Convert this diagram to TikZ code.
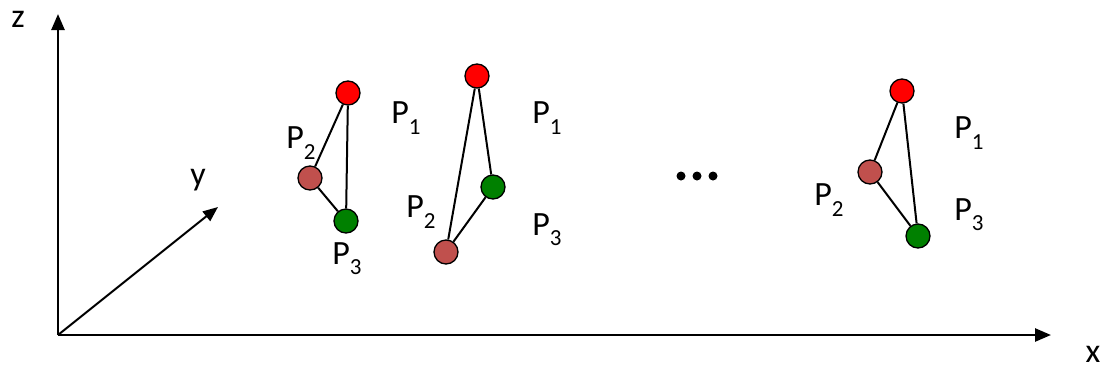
\documentclass[tikz,border=0pt]{standalone}
\usepackage{fontspec}
\setmainfont{Carlito}
\usetikzlibrary{arrows.meta}
\definecolor{pred}{HTML}{FF0000}
\definecolor{pbrown}{HTML}{C0504D}
\definecolor{pgreen}{HTML}{008000}
\newcommand{\Psub}[1]{P\raisebox{-0.3em}{\fontsize{23}{23}\selectfont #1}}
\tikzset{
  pt/.style={circle,draw=black,line width=1.3pt,minimum size=24pt,inner sep=0pt},
  red pt/.style={pt,fill=pred},
  brown pt/.style={pt,fill=pbrown},
  green pt/.style={pt,fill=pgreen},
  edge/.style={line width=2pt},
  axis/.style={line width=2.5pt,-{Triangle[length=16pt,width=13pt]}},
  lbl/.style={font=\fontsize{34}{34}\selectfont,inner sep=0pt},
  dot/.style={circle,fill=black,minimum size=9pt,inner sep=0pt}
}
\begin{document}
\begin{tikzpicture}[x=1pt,y=-1pt]
\useasboundingbox (0,0) rectangle (1105,370);
% axes
\coordinate (O) at (58,335);
\coordinate (Z) at (58,14);
\coordinate (X) at (1051,335);
\coordinate (Y) at (218,207);
\draw[axis] (O) -- (Z);
\draw[axis] (O) -- (X);
\draw[line width=2pt,-{Triangle[length=15pt,width=12pt]}] (O) -- (Y);
\node[lbl] (zl) at (18,19) {z};
\node[lbl] (xl) at (1093,354) {x};
\node[lbl] (yl) at (198,180) {y};
% group 1
\node[red pt] (a1) at (348,93) {};
\node[brown pt] (a2) at (310,178) {};
\node[green pt] (a3) at (346,221) {};
\draw[edge] (a1) -- (a2);
\draw[edge] (a1) -- (a3);
\draw[edge] (a2) -- (a3);
\node[lbl] (la1) at (406,118) {\Psub{1}};
\node[lbl] (la2) at (301,143) {\Psub{2}};
\node[lbl] (la3) at (347,259) {\Psub{3}};
% group 2
\node[red pt] (b1) at (477,76) {};
\node[green pt] (b3) at (493,187) {};
\node[brown pt] (b2) at (446,252) {};
\draw[edge] (b1) -- (b2);
\draw[edge] (b1) -- (b3);
\draw[edge] (b2) -- (b3);
\node[lbl] (lb1) at (547,118) {\Psub{1}};
\node[lbl] (lb2) at (421,212) {\Psub{2}};
\node[lbl] (lb3) at (547,230) {\Psub{3}};
% dots
\node[dot] (d1) at (681,176) {};
\node[dot] (d2) at (697,176) {};
\node[dot] (d3) at (713,176) {};
% group 3
\node[red pt] (c1) at (902,91) {};
\node[brown pt] (c2) at (870,172) {};
\node[green pt] (c3) at (918,236) {};
\draw[edge] (c1) -- (c2);
\draw[edge] (c1) -- (c3);
\draw[edge] (c2) -- (c3);
\node[lbl] (lc1) at (969,133) {\Psub{1}};
\node[lbl] (lc2) at (829,200) {\Psub{2}};
\node[lbl] (lc3) at (969,215) {\Psub{3}};
\end{tikzpicture}
\end{document}
